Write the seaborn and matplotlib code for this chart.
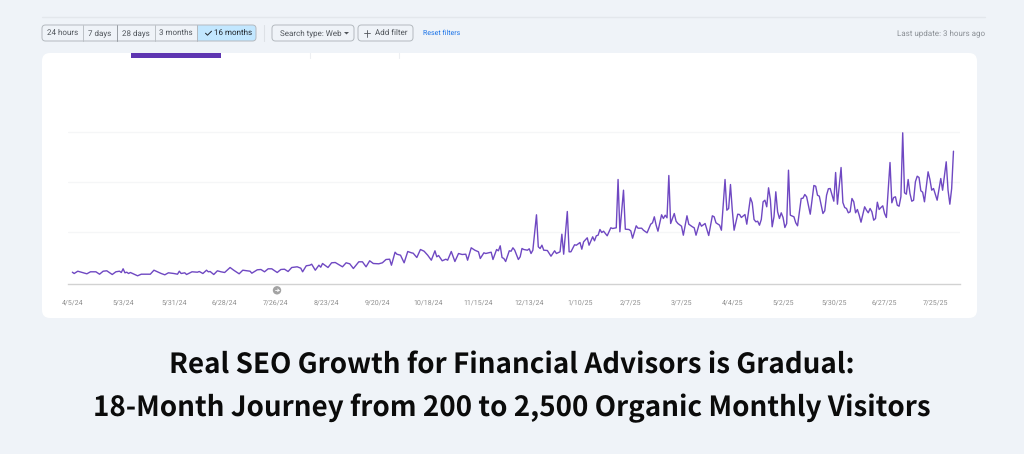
import matplotlib
matplotlib.use("Agg")
import matplotlib.pyplot as plt
from matplotlib.patches import FancyBboxPatch, Rectangle, Circle, Polygon
import pandas as pd
import seaborn as sns

# Values. The y axis has no labels so clicks are relative units
days = [
    0, 1, 3, 5, 8, 10, 13, 15, 17, 19, 22, 24, 26, 27, 28, 29, 30, 31, 32, 34,
    36, 38, 41, 43, 45, 47, 49, 51, 53, 56, 58, 59, 60, 62, 63, 66, 69, 70, 72, 74,
    75, 76, 78, 80, 82, 84, 87, 89, 92, 94, 98, 99, 102, 104, 106, 108, 110, 113, 115, 117,
    119, 121, 124, 126, 127, 129, 131, 132, 134, 136, 137, 138, 141, 143, 145, 149, 151, 153, 155, 158,
    160, 162, 164, 166, 169, 171, 173, 175, 176, 178, 179, 181, 183, 185, 187, 188, 190, 192, 194, 196,
    198, 200, 201, 202, 204, 206, 207, 209, 211, 213, 215, 217, 218, 220, 222, 224, 225, 227, 228, 231,
    232, 234, 235, 236, 237, 238, 239, 241, 242, 243, 244, 246, 247, 248, 249, 251, 252, 253, 254, 256,
    257, 258, 259, 260, 262, 264, 266, 267, 269, 270, 271, 273, 274, 275, 277, 278, 280, 281, 282, 284,
    285, 287, 288, 289, 290, 291, 292, 293, 295, 297, 298, 300, 301, 302, 304, 305, 307, 308, 309, 311,
    312, 314, 315, 317, 319, 320, 321, 322, 323, 325, 326, 327, 328, 329, 330, 332, 333, 334, 336, 337,
    339, 340, 342, 343, 344, 346, 347, 349, 351, 353, 354, 355, 357, 358, 360, 361, 362, 363, 364, 365,
    367, 368, 369, 371, 372, 374, 375, 376, 377, 378, 379, 380, 381, 382, 383, 384, 385, 386, 387, 388,
    389, 390, 391, 392, 393, 394, 395, 396, 398, 399, 400, 402, 403, 404, 405, 407, 409, 410, 411, 412,
    414, 415, 416, 417, 418, 420, 421, 422, 424, 425, 426, 427, 428, 429, 430, 431, 432, 433, 434, 435,
    437, 438, 439, 440, 441, 442, 443, 444, 445, 446, 447, 448, 449, 451, 452, 453, 454, 455, 456, 457,
    458, 459, 460, 461, 462, 463, 464, 465, 466, 467, 468, 469, 470, 472, 473, 474, 475, 477, 479, 480,
    482, 483, 484, 485, 486,
]
clicks = [
    11.3, 10, 12.3, 11.3, 9.7, 11.7, 11.7, 9.3, 12.3, 12.7, 9, 11.7, 12.3, 11, 14.7, 10.7, 11.3, 10, 11, 9.3,
    7.7, 9.3, 9.3, 9.3, 13.3, 11.7, 10, 8.7, 10.7, 10, 9.3, 12.3, 10, 10.7, 9, 11.7, 11.3, 12, 10, 13.3,
    11.7, 12, 9, 12.7, 11.7, 11, 16, 13.3, 9.7, 13.3, 12.3, 10.3, 13.7, 14, 11.7, 14.7, 14.7, 11, 14, 14.3,
    12, 16, 16.7, 15.3, 11.7, 17.7, 18.3, 19.3, 13.3, 18.3, 16.3, 20, 16, 20.7, 21, 16.7, 20.7, 19.7, 15, 21.7,
    21.7, 16.7, 22.7, 20, 19.7, 20.7, 24, 24.3, 18.3, 31.3, 29.3, 28.3, 20.7, 32, 30.7, 30.3, 26, 34, 32.3, 28.3,
    23.3, 32.7, 26.7, 28, 22.7, 24.3, 23.3, 32, 22, 30, 29, 29.3, 23.3, 35.7, 33.3, 31.7, 25, 30.7, 30, 31.3,
    24, 34, 32.7, 37.7, 26, 25, 22, 32.7, 32.3, 35.7, 33.3, 24, 26.7, 35, 34, 33.3, 34.7, 30, 33.3, 68.7,
    36.7, 35, 38.3, 33.3, 33, 27.3, 32.7, 30, 31.7, 49.3, 29.3, 72, 31.7, 31.7, 38.7, 38.3, 41, 34.3, 41.7, 45.7,
    38.3, 46.7, 42.7, 47.7, 48.3, 54, 51, 52.3, 47.7, 55.7, 55, 55.7, 104, 51.7, 93.3, 54.3, 54, 52.7, 45.3, 57.7,
    55.3, 55.3, 53.3, 50.7, 59.3, 60.7, 66.7, 58.3, 52.3, 68.7, 65, 68.3, 65.7, 108, 60, 70, 62.3, 60, 57.3, 48.3,
    67.7, 59.3, 56.7, 55.7, 48.3, 61, 57.3, 60, 48, 67.7, 66.7, 60.7, 58.3, 53.3, 104, 73.3, 75, 99, 73.3, 53.3,
    69.3, 69, 66, 69, 59.3, 85.7, 80.7, 64, 61.7, 62.3, 58.3, 64, 81.7, 83.3, 76.7, 95.7, 84, 56.7, 66.7, 91.7,
    71.7, 65, 70.7, 66, 56, 60, 113.3, 68.3, 66.7, 60.7, 57.7, 85, 85.3, 89, 86.7, 69.3, 98, 97.3, 88.3, 87.3,
    70, 72.7, 88.3, 94.7, 95, 82.3, 111, 79.3, 116, 81, 76, 75, 70.7, 71.7, 85, 81.7, 70.7, 74, 68.3, 61.3,
    76.7, 73.3, 70.7, 75, 71.7, 63.3, 65, 81.3, 74, 76, 77.7, 70, 66, 121, 80.7, 86, 86.7, 78.3, 77.3, 86.7,
    150.7, 90.7, 89.3, 104, 90, 82.3, 83.3, 101.7, 107.3, 106, 92.7, 91.3, 81.7, 111.7, 104, 93.3, 95, 83.3, 105, 93.3,
    121.7, 93.3, 79.3, 95, 132.3,
]
tick_labels = ["4/5/24", "5/3/24", "5/31/24", "6/28/24", "7/26/24", "8/23/24", "9/20/24", "10/18/24",
               "11/15/24", "12/13/24", "1/10/25", "2/7/25", "3/7/25", "4/4/25", "5/2/25", "5/30/25",
               "6/27/25", "7/25/25"]
grid_values = [51.7, 101.7, 151.7]
ranges = ["24 hours", "7 days", "28 days", "3 months", "16 months"]
title_lines = ["Real SEO Growth for Financial Advisors is Gradual:",
               "18-Month Journey from 200 to 2,500 Organic Monthly Visitors"]

BG = "#EFF3F8"
PURPLE = "#5E35B1"
W, H = 1024, 454

sns.set_theme(style="white")
plt.rcParams["font.family"] = ["Roboto", "DejaVu Sans"]
plt.rcParams["text.hinting"] = "no_hinting"
plt.rcParams["text.hinting_factor"] = 1

df = pd.DataFrame({"date": pd.Timestamp("2024-04-05") + pd.to_timedelta(days, unit="D"), "clicks": clicks})
ticks = pd.to_datetime(tick_labels, format="%m/%d/%y")

fig = plt.figure(figsize=(W / 100, H / 100), dpi=100, facecolor=BG)

# page chrome in pixel coordinates
bg = fig.add_axes([0, 0, 1, 1], zorder=0)
bg.set_xlim(0, W)
bg.set_ylim(H, 0)
bg.axis("off")


def pill(x0, x1, y0=25, y1=41, fc="none", ec="#B4B9BF", r=3.5):
    bg.add_patch(FancyBboxPatch((x0 + r, y0 + r), x1 - x0 - 2 * r, y1 - y0 - 2 * r,
                                boxstyle=f"round,pad={r},rounding_size={r}", fc=fc, ec=ec, lw=0.7))


def label(x, y, s, color="#50555B", ha="center", size=5.6, **kw):
    bg.text(x, y, s, color=color, ha=ha, va="center", fontsize=size, **kw)


bg.plot([42, 985], [17, 17], color="#E3E7EC", lw=1)

# white card with the tab strip on top
bg.add_patch(FancyBboxPatch((50, 61), 919, 249, boxstyle="round,pad=8,rounding_size=8", fc="white", ec="none"))
bg.add_patch(Rectangle((131, 53), 90, 5, fc=PURPLE, ec="none"))
for x in [310, 399]:
    bg.plot([x, x], [53, 58], color="#EDEFF2", lw=0.8)

# range buttons
bg.add_patch(FancyBboxPatch((201, 25), 55, 16, boxstyle="round,pad=0,rounding_size=3.5", fc="#C2E7FF", ec="none"))
bg.add_patch(Rectangle((197, 25), 12, 16, fc="#C2E7FF", ec="none"))
pill(42, 256)
for x, c in zip([83, 117, 155, 197], ["#BCC1C6", "#989DA3", "#BCC1C6", "#B4B9BF"]):
    bg.plot([x, x], [25, 41], color=c, lw=0.7)
for x, s in zip([62.5, 100, 136, 176, 233.5], ranges):
    label(x, 33.2, s, color="#1F2328" if s == "16 months" else "#50555B")
bg.plot([205.5, 207.5, 211.5], [33.2, 35.2, 31.2], color="#1F2328", lw=0.7)
bg.plot([264, 264], [25, 41], color="#DDE1E6", lw=0.8)

# filters
pill(272, 354)
label(280, 33.2, "Search type: Web", ha="left")
bg.add_patch(Polygon([[344, 32], [349, 32], [346.5, 34.5]], fc="#50555B", ec="none"))
pill(358, 413)
bg.plot([367, 367], [30, 36.5], color="#50555B", lw=0.6)
bg.plot([363.8, 370.2], [33.2, 33.2], color="#50555B", lw=0.6)
label(375, 33.2, "Add filter", ha="left")
label(423, 33.2, "Reset filters", color="#1A73E8", ha="left", size=5.4)
label(985, 33.2, "Last update: 3 hours ago", color="#8B9096", ha="right", size=5.8)

# chart
ax = fig.add_axes([68 / W, 1 - 283.5 / H, (960 - 68) / W, (283.5 - 120) / H], zorder=1)
ax.patch.set_alpha(0)
for v in grid_values:
    ax.axhline(v, color="#F5F6F7", lw=0.9, zorder=0)
sns.lineplot(data=df, x="date", y="clicks", ax=ax, color="#6F48C2", lw=1.0, errorbar=None)
ax.set_xlim(pd.Timestamp("2024-04-05") - pd.Timedelta(days=2.4), pd.Timestamp("2024-04-05") + pd.Timedelta(days=489.6))
ax.set_ylim(0, 163.5)
ax.set_xlabel("")
ax.set_ylabel("")
ax.set_yticks([])
ax.set_xticks(ticks)
ax.set_xticklabels(tick_labels, fontsize=5.2, color="#8F8F8F")
ax.tick_params(axis="x", length=0, pad=11.5)
sns.despine(ax=ax, left=True)
ax.spines["bottom"].set_color("#D2D2D2")
ax.spines["bottom"].set_linewidth(1)

# annotation marker under the axis, drawn above the chart axes
top = fig.add_axes([0, 0, 1, 1], zorder=2)
top.set_xlim(0, W)
top.set_ylim(H, 0)
top.axis("off")
top.add_patch(Circle((277, 290.3), 4.2, fc="#A3A3A3", ec="none"))
top.plot([275, 279], [290.3, 290.3], color="white", lw=0.6)
top.plot([277.6, 279, 277.6], [289, 290.3, 291.6], color="white", lw=0.6)

# headline
for y, line in zip([365, 408], title_lines):
    bg.text(W / 2, y, line, ha="center", va="center", fontsize=20, fontweight="bold",
            family=["Noto Sans CJK SC", "DejaVu Sans"], color="#0B0B0B")

fig.savefig("out.png", dpi=100, facecolor=BG)
